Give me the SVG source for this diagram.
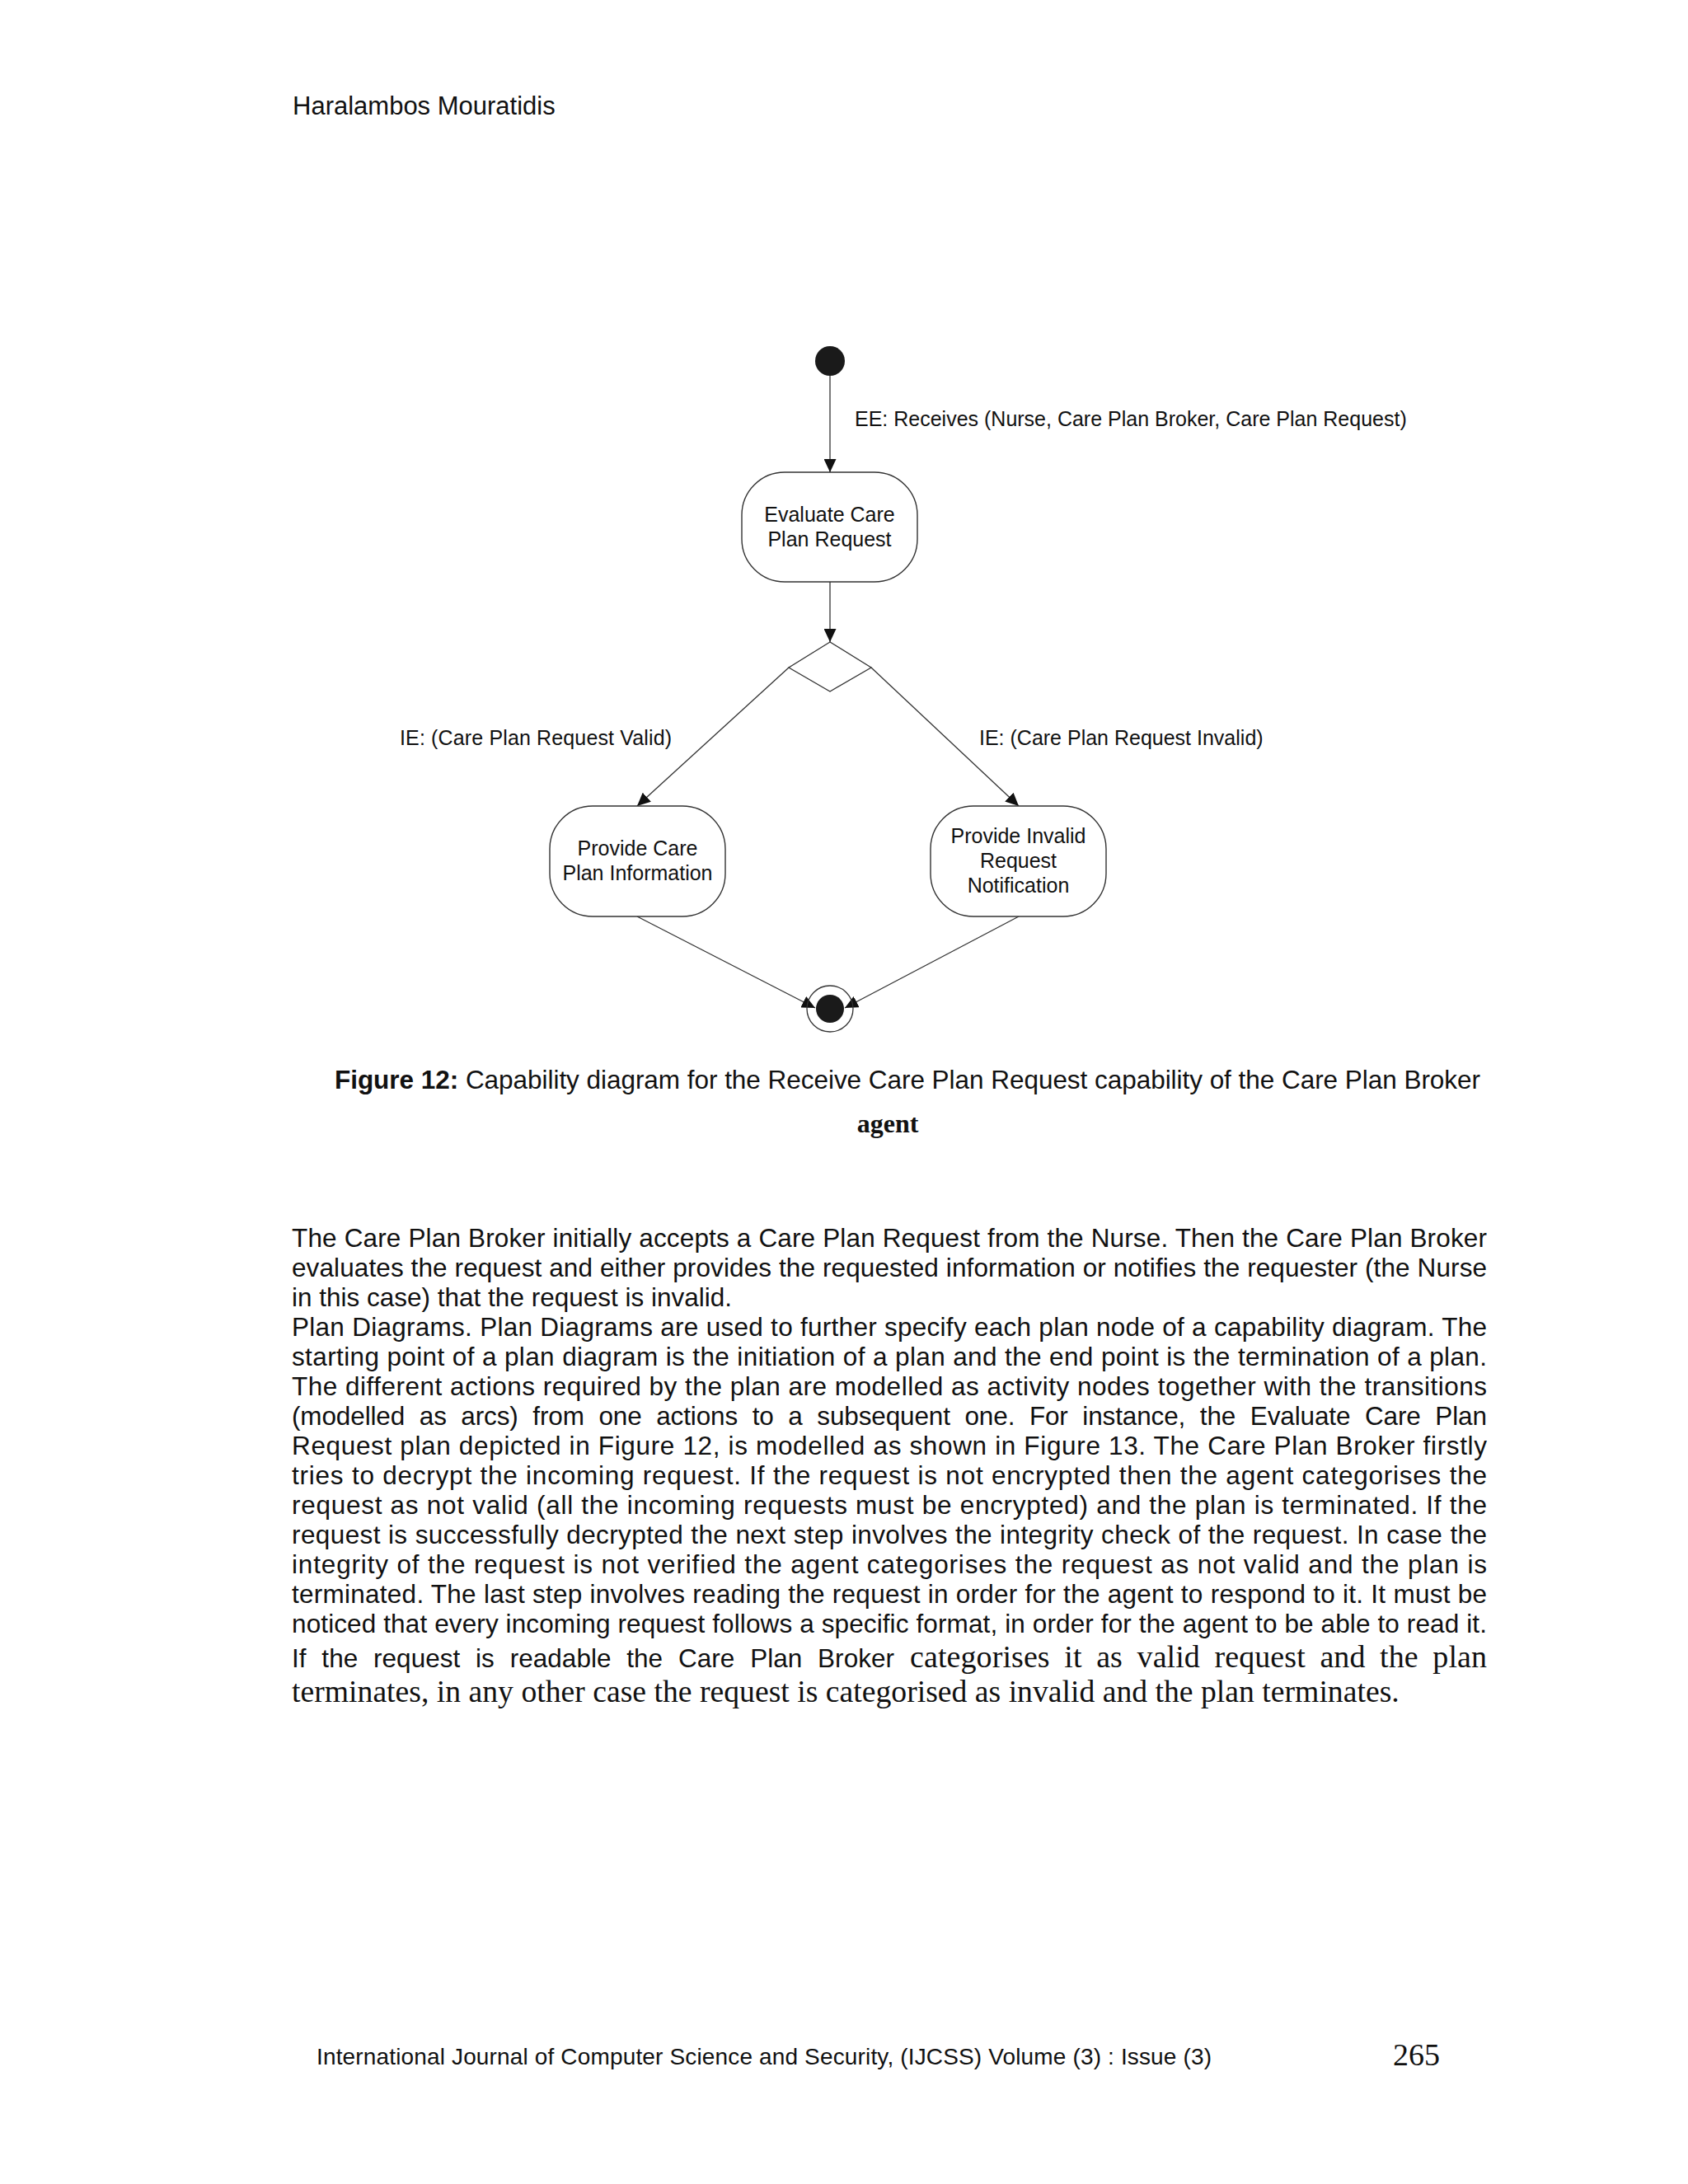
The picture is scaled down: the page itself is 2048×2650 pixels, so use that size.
<svg xmlns="http://www.w3.org/2000/svg" width="2048" height="2650" viewBox="0 0 2048 2650">
<style>
.bg{fill:#ffffff}
.sans{font-family:"Liberation Sans",Arial,sans-serif;fill:#111}
.serif{font-family:"Liberation Serif","Times New Roman",serif;fill:#111}
.lbl{font-family:"Liberation Sans",Arial,sans-serif;font-size:25px;fill:#111}
.node rect{fill:#ffffff;stroke:#333;stroke-width:1.4}
.edge{fill:none;stroke:#333;stroke-width:1.3}
.body{font-size:31.5px}
</style>
<defs>
<marker id="arr" viewBox="0 0 16 15" refX="16" refY="7.5" markerWidth="16" markerHeight="15" orient="auto" markerUnits="userSpaceOnUse">
<path d="M0,0 L16,7.5 L0,15 Z" fill="#111"/>
</marker>
</defs>
<rect class="bg" x="0" y="0" width="2048" height="2650"/>

<text class="sans" x="355" y="139" font-size="31">Haralambos Mouratidis</text>

<g id="connectors">
<line class="edge" x1="1007" y1="456" x2="1007" y2="573" marker-end="url(#arr)"/>
<line class="edge" x1="1007" y1="706" x2="1007" y2="779" marker-end="url(#arr)"/>
<line class="edge" x1="957" y1="810" x2="773" y2="978" marker-end="url(#arr)"/>
<line class="edge" x1="1057" y1="810" x2="1236" y2="978" marker-end="url(#arr)"/>
<line class="edge" x1="773" y1="1112" x2="989" y2="1223" marker-end="url(#arr)"/>
<line class="edge" x1="1236" y1="1112" x2="1025" y2="1223" marker-end="url(#arr)"/>
<text class="lbl" x="1037" y="517">EE: Receives (Nurse, Care Plan Broker, Care Plan Request)</text>
<text class="lbl" x="815" y="904" text-anchor="end" textLength="330" lengthAdjust="spacing">IE: (Care Plan Request Valid)</text>
<text class="lbl" x="1188" y="904">IE: (Care Plan Request Invalid)</text>
</g>

<g id="start">
<circle cx="1007" cy="438" r="18" fill="#1a1a1a"/>
</g>

<g id="evaluate" class="node">
<rect x="900" y="573" width="213" height="133" rx="52" ry="52"/>
<text class="lbl" x="1006.5" y="633" text-anchor="middle">Evaluate Care</text>
<text class="lbl" x="1006.5" y="663" text-anchor="middle">Plan Request</text>
</g>

<g id="decision">
<path d="M1007,779 L957,810 L1007,839 L1057,810 Z" fill="#ffffff" stroke="#333" stroke-width="1.3"/>
</g>

<g id="provide-info" class="node">
<rect x="667" y="978" width="213" height="134" rx="52" ry="52"/>
<text class="lbl" x="773.5" y="1038" text-anchor="middle">Provide Care</text>
<text class="lbl" x="773.5" y="1068" text-anchor="middle">Plan Information</text>
</g>

<g id="provide-invalid" class="node">
<rect x="1129" y="978" width="213" height="134" rx="52" ry="52"/>
<text class="lbl" x="1235.5" y="1023" text-anchor="middle">Provide Invalid</text>
<text class="lbl" x="1235.5" y="1053" text-anchor="middle">Request</text>
<text class="lbl" x="1235.5" y="1083" text-anchor="middle">Notification</text>
</g>

<g id="end">
<circle cx="1007" cy="1224" r="28" fill="none" stroke="#333" stroke-width="1.3"/>
<circle cx="1007" cy="1224" r="17" fill="#1a1a1a"/>
</g>

<text class="sans" x="406" y="1321" font-size="31.5" textLength="1390" lengthAdjust="spacing"><tspan font-weight="bold">Figure 12:</tspan> Capability diagram for the Receive Care Plan Request capability of the Care Plan Broker</text>
<text class="serif" x="1077" y="1374" font-size="32" font-weight="bold" text-anchor="middle">agent</text>

<g class="sans body">
<text x="354" y="1513" textLength="1450" lengthAdjust="spacing">The Care Plan Broker initially accepts a Care Plan Request from the Nurse. Then the Care Plan Broker</text>
<text x="354" y="1549" textLength="1450" lengthAdjust="spacing">evaluates the request and either provides the requested information or notifies the requester (the Nurse</text>
<text x="354" y="1585">in this case) that the request is invalid.</text>
<text x="354" y="1621" textLength="1450" lengthAdjust="spacing">Plan Diagrams. Plan Diagrams are used to further specify each plan node of a capability diagram. The</text>
<text x="354" y="1657" textLength="1450" lengthAdjust="spacing">starting point of a plan diagram is the initiation of a plan and the end point is the termination of a plan.</text>
<text x="354" y="1693" textLength="1450" lengthAdjust="spacing">The different actions required by the plan are modelled as activity nodes together with the transitions</text>
<text x="354" y="1729" word-spacing="9" textLength="1450" lengthAdjust="spacing">(modelled as arcs) from one actions to a subsequent one. For instance, the Evaluate Care Plan</text>
<text x="354" y="1765" textLength="1450" lengthAdjust="spacing">Request plan depicted in Figure 12, is modelled as shown in Figure 13. The Care Plan Broker firstly</text>
<text x="354" y="1801" textLength="1450" lengthAdjust="spacing">tries to decrypt the incoming request. If the request is not encrypted then the agent categorises the</text>
<text x="354" y="1837" textLength="1450" lengthAdjust="spacing">request as not valid (all the incoming requests must be encrypted) and the plan is terminated. If the</text>
<text x="354" y="1873" textLength="1450" lengthAdjust="spacing">request is successfully decrypted the next step involves the integrity check of the request. In case the</text>
<text x="354" y="1909" textLength="1450" lengthAdjust="spacing">integrity of the request is not verified the agent categorises the request as not valid and the plan is</text>
<text x="354" y="1945" textLength="1450" lengthAdjust="spacing">terminated. The last step involves reading the request in order for the agent to respond to it. It must be</text>
<text x="354" y="1981" textLength="1450" lengthAdjust="spacing">noticed that every incoming request follows a specific format, in order for the agent to be able to read it.</text>
<text x="354" y="2023" word-spacing="10" textLength="731" lengthAdjust="spacing">If the request is readable the Care Plan Broker</text>
</g>
<text class="serif" x="1104" y="2023" font-size="38" word-spacing="8" textLength="700" lengthAdjust="spacing">categorises it as valid request and the plan</text>
<text class="serif" x="354" y="2065" font-size="37.7">terminates, in any other case the request is categorised as invalid and the plan terminates.</text>

<text class="sans" x="384" y="2505" font-size="28" textLength="1086" lengthAdjust="spacing">International Journal of Computer Science and Security, (IJCSS) Volume (3) : Issue (3)</text>
<text class="serif" x="1690" y="2506" font-size="38">265</text>
</svg>
